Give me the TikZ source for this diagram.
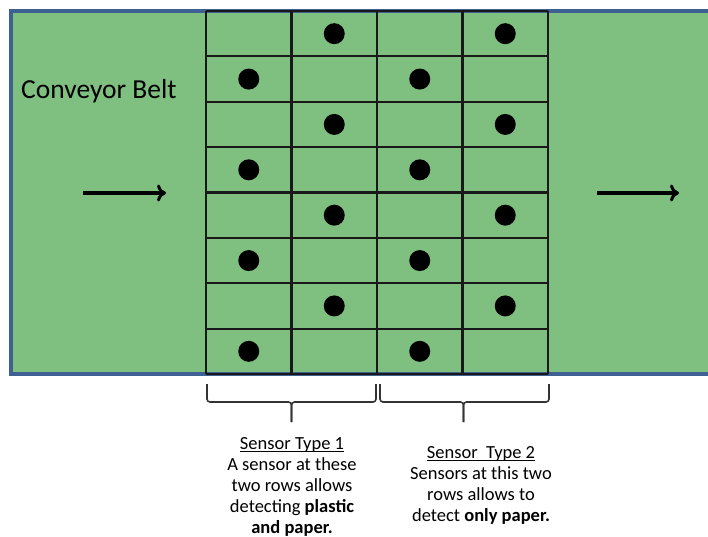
\documentclass[tikz,border=0pt]{standalone}
\usepackage{fontspec}
\usetikzlibrary{arrows.meta}
\setmainfont{Carlito}
\definecolor{beltgreen}{RGB}{127,191,127}
\definecolor{beltedge}{RGB}{62,96,146}
\newcommand\headline[1]{\setbox0\hbox{#1}\rlap{\rule[-2.2pt]{\wd0}{0.9pt}}\box0}
\begin{document}
\begin{tikzpicture}[x=1pt, y=-1pt, >={To[length=9pt, width=17pt, line width=3pt]},
  cell/.style={draw=black!90, line width=2.2pt},
  dot/.style={fill=black},
  flow/.style={->, line width=3.2pt},
  brace/.style={draw=black!80, line width=1.6pt, rounded corners=3pt},
  legend/.style={align=center, inner sep=0pt, font=\fontsize{18.5}{21}\selectfont}]

  \newcommand\X{85.5}
  \newcommand\Y{45.375}
  \newcommand\G{206}
  \newcommand\T{11}

  \useasboundingbox (0,0) rectangle (708,537);

  \fill[beltgreen] (\T, \T) rectangle (708, \T+8*\Y);
  \draw[beltedge, line width=3.2pt] (708, \T) -- (\T, \T) -- (\T, \T+8*\Y) -- (708, \T+8*\Y);

  \draw[cell](\G+0*\X, \T)--(\G+0*\X, \T+8*\Y);
  \draw[cell](\G+1*\X, \T)--(\G+1*\X, \T+8*\Y);
  \draw[cell](\G+2*\X, \T)--(\G+2*\X, \T+8*\Y);
  \draw[cell](\G+3*\X, \T)--(\G+3*\X, \T+8*\Y);
  \draw[cell](\G+4*\X, \T)--(\G+4*\X, \T+8*\Y);

  \draw[cell](\G, \T+0*\Y)--(\G+4*\X, \T+0*\Y);
  \draw[cell](\G, \T+1*\Y)--(\G+4*\X, \T+1*\Y);
  \draw[cell](\G, \T+2*\Y)--(\G+4*\X, \T+2*\Y);
  \draw[cell](\G, \T+3*\Y)--(\G+4*\X, \T+3*\Y);
  \draw[cell](\G, \T+4*\Y)--(\G+4*\X, \T+4*\Y);
  \draw[cell](\G, \T+5*\Y)--(\G+4*\X, \T+5*\Y);
  \draw[cell](\G, \T+6*\Y)--(\G+4*\X, \T+6*\Y);
  \draw[cell](\G, \T+7*\Y)--(\G+4*\X, \T+7*\Y);
  \draw[cell](\G, \T+8*\Y)--(\G+4*\X, \T+8*\Y);

  \fill[dot](\G+1.5*\X, \T+0.5*\Y) circle(10.5pt);
  \fill[dot](\G+3.5*\X, \T+0.5*\Y) circle(10.5pt);
  \fill[dot](\G+0.5*\X, \T+1.5*\Y) circle(10.5pt);
  \fill[dot](\G+2.5*\X, \T+1.5*\Y) circle(10.5pt);
  \fill[dot](\G+1.5*\X, \T+2.5*\Y) circle(10.5pt);
  \fill[dot](\G+3.5*\X, \T+2.5*\Y) circle(10.5pt);
  \fill[dot](\G+0.5*\X, \T+3.5*\Y) circle(10.5pt);
  \fill[dot](\G+2.5*\X, \T+3.5*\Y) circle(10.5pt);
  \fill[dot](\G+1.5*\X, \T+4.5*\Y) circle(10.5pt);
  \fill[dot](\G+3.5*\X, \T+4.5*\Y) circle(10.5pt);
  \fill[dot](\G+0.5*\X, \T+5.5*\Y) circle(10.5pt);
  \fill[dot](\G+2.5*\X, \T+5.5*\Y) circle(10.5pt);
  \fill[dot](\G+1.5*\X, \T+6.5*\Y) circle(10.5pt);
  \fill[dot](\G+3.5*\X, \T+6.5*\Y) circle(10.5pt);
  \fill[dot](\G+0.5*\X, \T+7.5*\Y) circle(10.5pt);
  \fill[dot](\G+2.5*\X, \T+7.5*\Y) circle(10.5pt);

  \node[anchor=base west, inner sep=0pt, font=\fontsize{27.5}{30}\selectfont]
    (belt) at (21, 99) {Conveyor Belt};

  \coordinate (inStart) at (83, 193);
  \coordinate (inEnd) at (166, 193);
  \coordinate (outStart) at (597, 193);
  \coordinate (outEnd) at (679, 193);
  \draw[flow] (inStart) -- (inEnd);
  \draw[flow] (outStart) -- (outEnd);

  %% braces under the two pairs of columns
  \coordinate (b1l) at (\G+1, 384);
  \coordinate (b1r) at (\G+2*\X-1, 384);
  \coordinate (b1tip) at (\G+\X, 422);
  \draw[brace] (b1l) -- (b1l |- 0,402) -- (b1tip |- 0,402) -- (b1tip);
  \draw[brace] (b1r) -- (b1r |- 0,402) -- (b1tip |- 0,402) -- (b1tip);

  \coordinate (b2l) at (\G+2*\X+3, 384);
  \coordinate (b2r) at (\G+4*\X+1, 384);
  \coordinate (b2tip) at (\G+3*\X+1, 422);
  \draw[brace] (b2l) -- (b2l |- 0,402) -- (b2tip |- 0,402) -- (b2tip);
  \draw[brace] (b2r) -- (b2r |- 0,402) -- (b2tip |- 0,402) -- (b2tip);

  \node[legend, anchor=north] (type1) at (292, 437)
    {\headline{Sensor Type 1}\\A sensor at these\\two rows allows\\detecting \textbf{plastic}\\\textbf{and paper.}};
  \node[legend, anchor=north] (type2) at (481, 446)
    {\headline{Sensor\ \ Type 2}\\Sensors at this two\\rows allows to\\detect \textbf{only paper.}};
\end{tikzpicture}
\end{document}
